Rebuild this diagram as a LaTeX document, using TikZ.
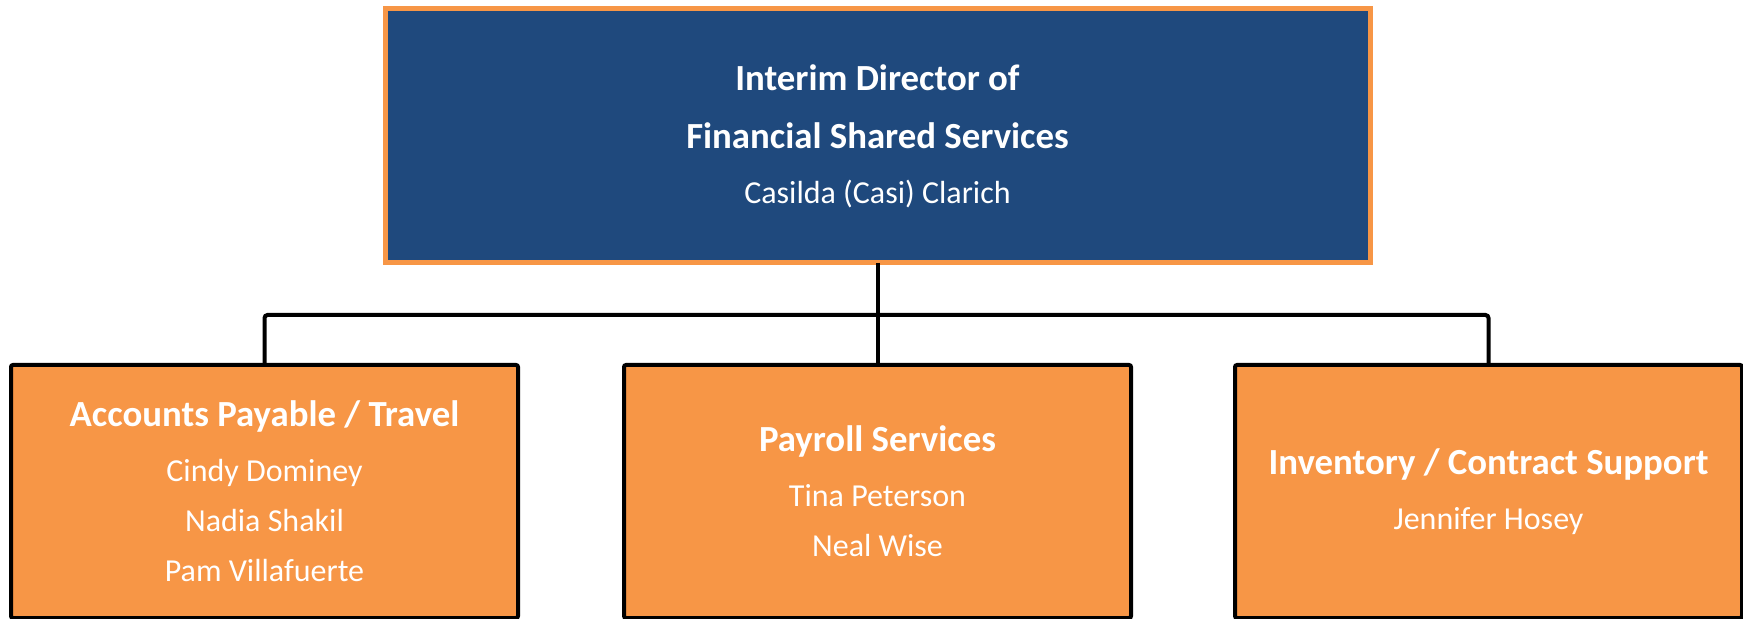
\documentclass[tikz,border=0pt]{standalone}
\usepackage{fontspec}
\setmainfont{Carlito}
\usepackage{tikz}
\usetikzlibrary{positioning}

\definecolor{headblue}{HTML}{1F497D}
\definecolor{unitorange}{HTML}{F79646}
\newcommand{\unittitle}[1]{{\fontsize{18.4}{24}\selectfont\bfseries #1}}

\begin{document}
\begin{tikzpicture}[
    head/.style = {draw=unitorange, fill=headblue, line width=2.5pt, minimum width=492.5pt, minimum height=127pt, outer sep=0pt, align=center, text=white, font=\fontsize{16}{25}\selectfont},
    unit/.style = {draw=black, fill=unitorange, line width=2pt, rounded corners=1pt, minimum width=253.5pt, minimum height=126.5pt, outer sep=0pt, align=center, text=white, font=\fontsize{16}{25}\selectfont},
    link/.style = {draw=black, line width=2pt, rounded corners=1.5pt}
]
\useasboundingbox (0,0) rectangle (871.5pt,-309.5pt);
\node (dir) [head] at (438.75pt,-68pt) {\unittitle{Interim Director of}\\[4pt] \unittitle{Financial Shared Services}\\[2.5pt] Casilda (Casi) Clarich};
\node (pay) [unit, below=51pt of dir] {\unittitle{Payroll Services}\\[2.5pt] Tina Peterson\\ Neal Wise};
\node (ap) [unit, left=53pt of pay] {\unittitle{Accounts Payable / Travel}\\[2.5pt] Cindy Dominey\\ Nadia Shakil\\ Pam Villafuerte};
\node (inv) [unit, right=52pt of pay] {\unittitle{Inventory / Contract Support}\\[2.5pt] Jennifer Hosey};

\draw[link] (dir.south) -- (pay.north);
\draw[link] (ap.north) -- ++(0,25pt) -| (inv.north);
\end{tikzpicture}
\end{document}
